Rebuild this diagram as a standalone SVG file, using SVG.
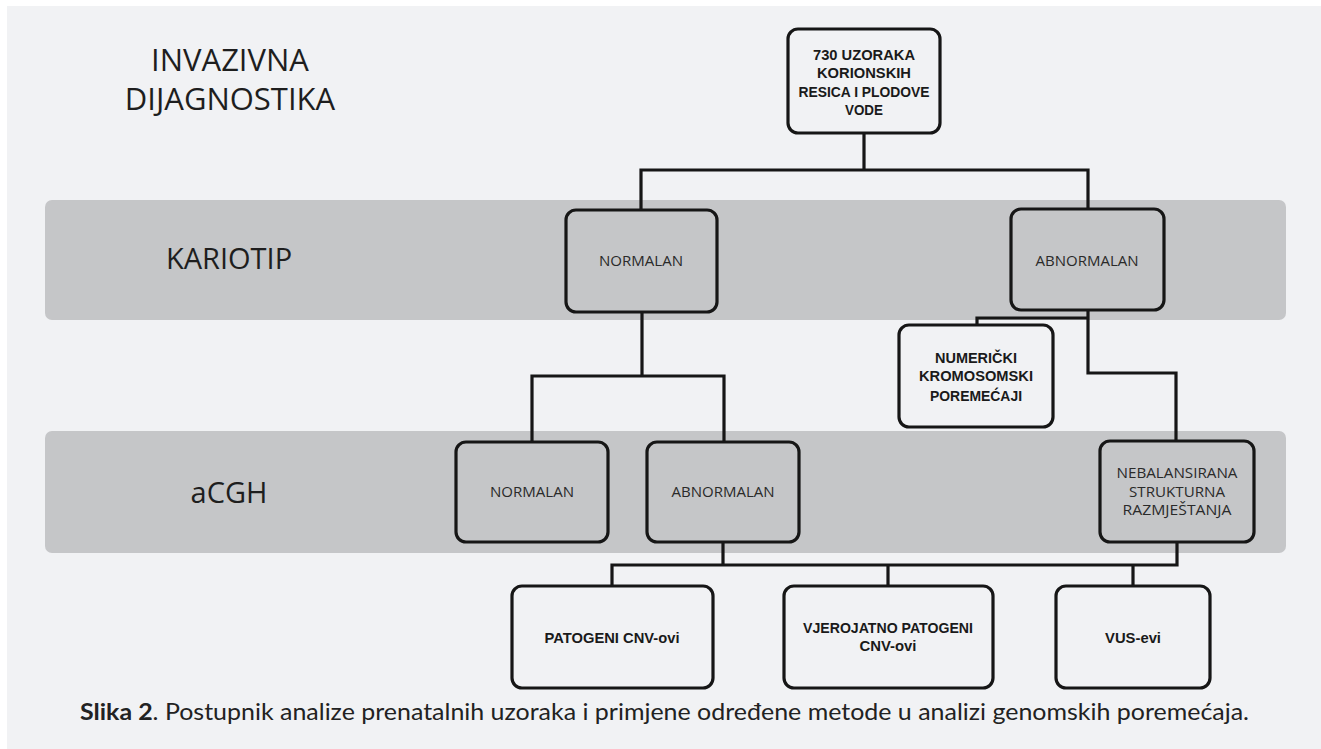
<svg xmlns="http://www.w3.org/2000/svg" width="1321" height="749" viewBox="0 0 1321 749">
<style>
.bg{fill:#f1f2f4}
.band{fill:#c5c6c8}
.box{fill:#f1f2f4;stroke:#161616;stroke-width:3.2}
.gbox{fill:#c5c6c8;stroke:#161616;stroke-width:3.2}
.conn{fill:none;stroke:#161616;stroke-width:3.2;stroke-linejoin:miter}
.title{font-family:"Open Sans","Noto Sans",sans-serif;fill:#1e1e1e;text-anchor:middle}
.lab{font-family:"Open Sans","Noto Sans",sans-serif;font-size:14px;fill:#2a2a2a;text-anchor:middle}
.blab{font-family:"Liberation Sans","Noto Sans",sans-serif;font-size:15px;font-weight:bold;fill:#1a1a1a;text-anchor:middle}
.cap{font-family:"Lato","Open Sans",sans-serif;font-size:23px;fill:#222}
</style>
<rect class="bg" x="7" y="6" width="1314" height="743"/>
<g id="bands">
<rect class="band" x="45" y="200" width="1241" height="120" rx="7"/>
<rect class="band" x="45" y="431" width="1241" height="122" rx="7"/>
</g>
<g id="labels">
<text class="title" x="230" y="71" font-size="31">INVAZIVNA</text>
<text class="title" x="230" y="110" font-size="31">DIJAGNOSTIKA</text>
<text class="title" x="229" y="269" font-size="29">KARIOTIP</text>
<text class="title" x="229" y="503" font-size="29">aCGH</text>
</g>
<g id="connectors">
<path class="conn" d="M864 133 V170 M641 210 V170 H1088 V209"/>
<path class="conn" d="M642 312 V376 M532 442 V376 H724 V442"/>
<path class="conn" d="M1088 310 V373 H1176 V441"/>
<path class="conn" d="M1088 318 H977 V325"/>
<path class="conn" d="M723 542 V565 M612 586 V565 H1177 V542 M888 565 V586 M1133 565 V586"/>
</g>
<g id="n-root">
<rect class="box" x="788" y="29" width="152" height="104" rx="10"/>
<text class="blab" x="864" y="60" textLength="102" lengthAdjust="spacingAndGlyphs">730 UZORAKA</text>
<text class="blab" x="864" y="78" textLength="94" lengthAdjust="spacingAndGlyphs">KORIONSKIH</text>
<text class="blab" x="864" y="97" textLength="131" lengthAdjust="spacingAndGlyphs">RESICA I PLODOVE</text>
<text class="blab" x="864" y="115" textLength="38" lengthAdjust="spacingAndGlyphs">VODE</text>
</g>
<g id="n-kar-normalan">
<rect class="gbox" x="566" y="210" width="151" height="102" rx="10"/>
<text class="lab" x="641" y="266" textLength="84" lengthAdjust="spacingAndGlyphs">NORMALAN</text>
</g>
<g id="n-kar-abnormalan">
<rect class="gbox" x="1011" y="209" width="153" height="101" rx="10"/>
<text class="lab" x="1087" y="266" textLength="103" lengthAdjust="spacingAndGlyphs">ABNORMALAN</text>
</g>
<g id="n-numericki">
<rect class="box" x="899" y="325" width="154" height="102" rx="10"/>
<text class="blab" x="976" y="363" textLength="82" lengthAdjust="spacingAndGlyphs">NUMERIČKI</text>
<text class="blab" x="976" y="381" textLength="114" lengthAdjust="spacingAndGlyphs">KROMOSOMSKI</text>
<text class="blab" x="976" y="401" textLength="92" lengthAdjust="spacingAndGlyphs">POREMEĆAJI</text>
</g>
<g id="n-acgh-normalan">
<rect class="gbox" x="456" y="442" width="152" height="100" rx="10"/>
<text class="lab" x="532" y="497" textLength="84" lengthAdjust="spacingAndGlyphs">NORMALAN</text>
</g>
<g id="n-acgh-abnormalan">
<rect class="gbox" x="647" y="442" width="152" height="100" rx="10"/>
<text class="lab" x="723" y="497" textLength="103" lengthAdjust="spacingAndGlyphs">ABNORMALAN</text>
</g>
<g id="n-nebalansirana">
<rect class="gbox" x="1100" y="441" width="154" height="101" rx="10"/>
<text class="lab" x="1177" y="478" textLength="121" lengthAdjust="spacingAndGlyphs">NEBALANSIRANA</text>
<text class="lab" x="1177" y="497" textLength="96" lengthAdjust="spacingAndGlyphs">STRUKTURNA</text>
<text class="lab" x="1177" y="515" textLength="109" lengthAdjust="spacingAndGlyphs">RAZMJEŠTANJA</text>
</g>
<g id="n-patogeni">
<rect class="box" x="512" y="586" width="201" height="102" rx="10"/>
<text class="blab" x="612" y="643" textLength="135" lengthAdjust="spacingAndGlyphs">PATOGENI CNV-ovi</text>
</g>
<g id="n-vjerojatno">
<rect class="box" x="784" y="586" width="209" height="102" rx="10"/>
<text class="blab" x="888" y="633" textLength="170" lengthAdjust="spacingAndGlyphs">VJEROJATNO PATOGENI</text>
<text class="blab" x="888" y="651" textLength="57" lengthAdjust="spacingAndGlyphs">CNV-ovi</text>
</g>
<g id="n-vus">
<rect class="box" x="1056" y="586" width="154" height="102" rx="10"/>
<text class="blab" x="1133" y="643" textLength="56" lengthAdjust="spacingAndGlyphs">VUS-evi</text>
</g>
<text class="cap" x="80" y="720" textLength="1169" lengthAdjust="spacingAndGlyphs"><tspan font-weight="bold">Slika 2</tspan>. Postupnik analize prenatalnih uzoraka i primjene određene metode u analizi genomskih poremećaja.</text>
</svg>
